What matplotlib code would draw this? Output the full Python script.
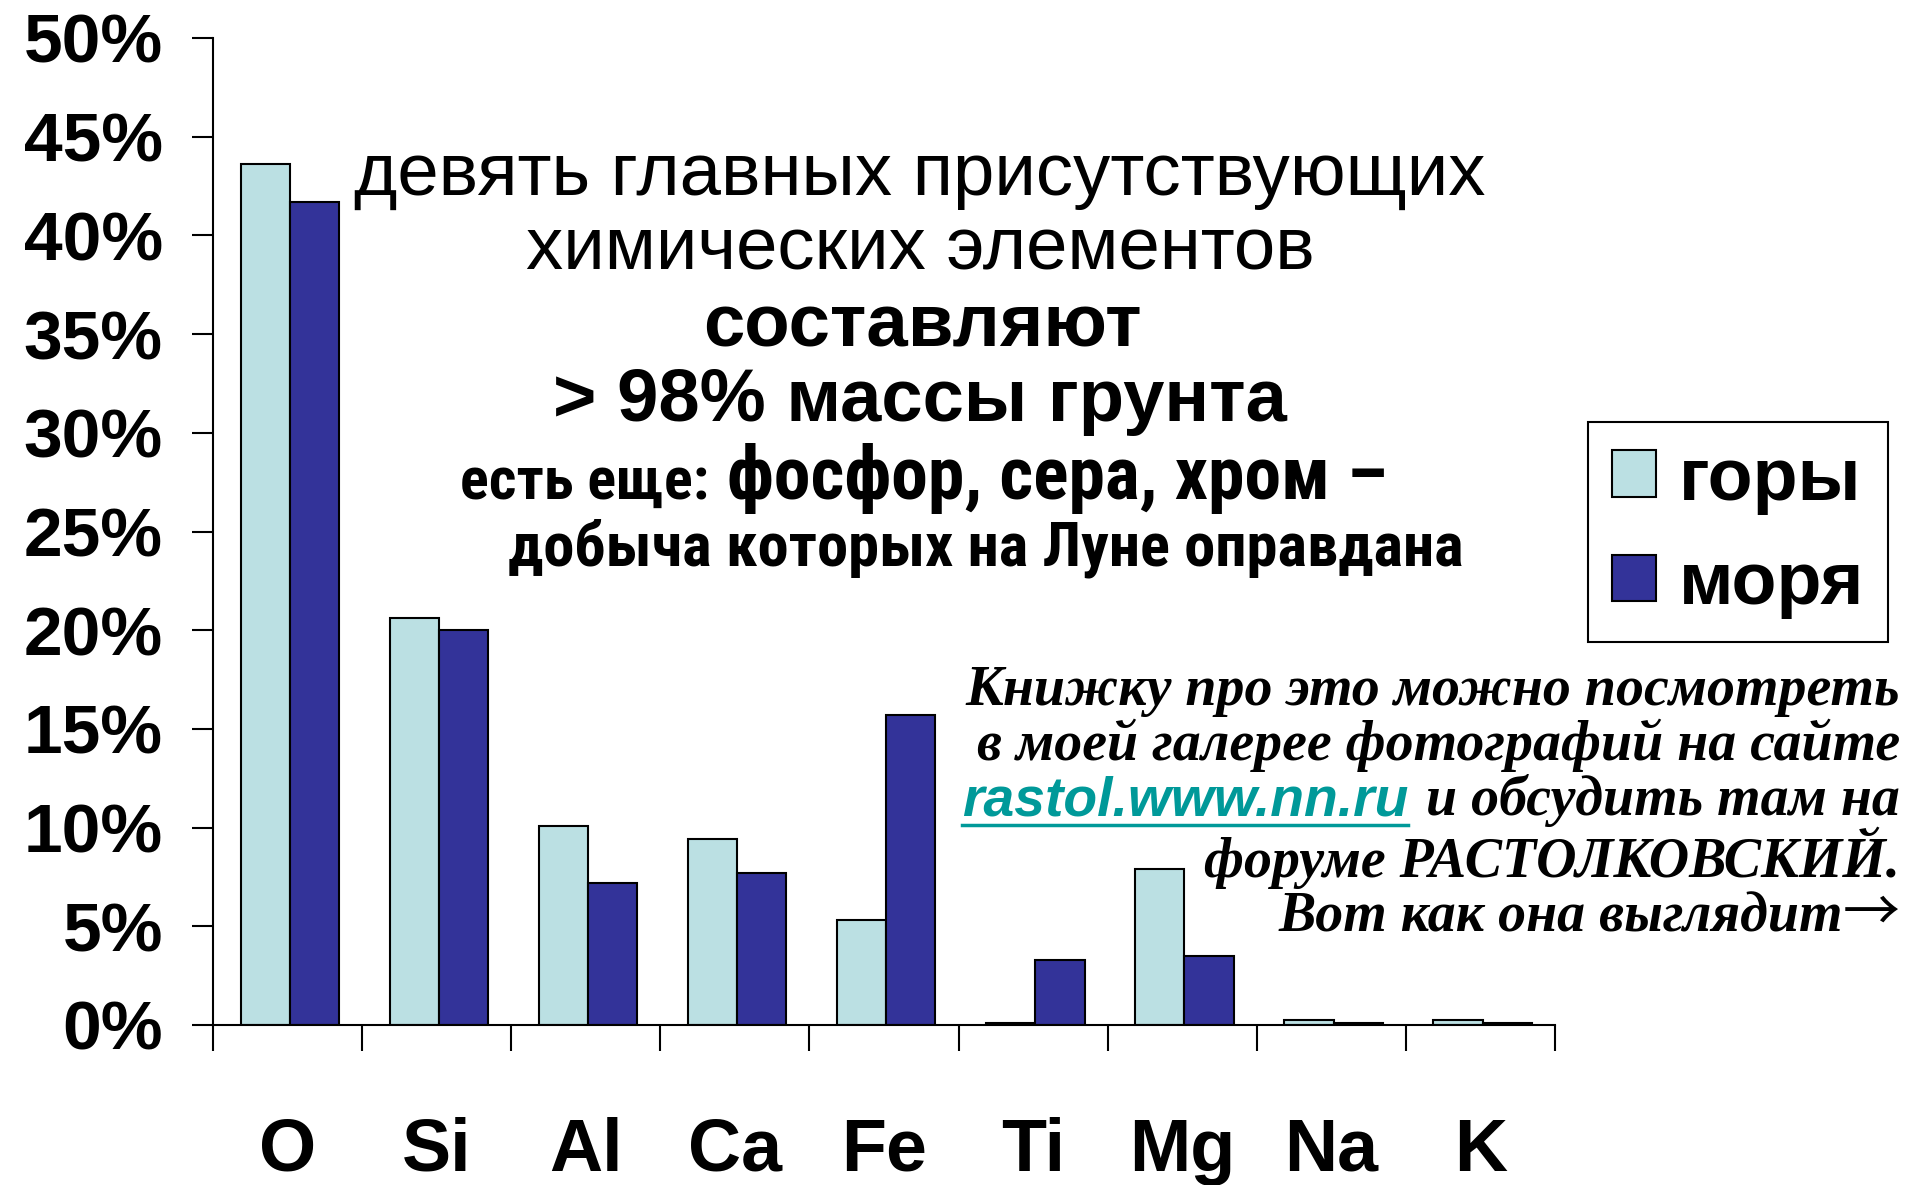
import numpy as np
import matplotlib
matplotlib.use('Agg')
import matplotlib.pyplot as plt
from matplotlib import font_manager
from matplotlib.lines import Line2D

plt.rcParams['font.family'] = ['Liberation Sans', 'DejaVu Sans']

elements = ['O', 'Si', 'Al', 'Ca', 'Fe', 'Ti', 'Mg', 'Na', 'K']
highlands = [43.6, 20.6, 10.1, 9.4, 5.3, 0.1, 7.9, 0.25, 0.25]
maria = [41.7, 20.0, 7.2, 7.7, 15.7, 3.3, 3.5, 0.08, 0.08]
series_names = ['горы', 'моря']
yticks = [0, 5, 10, 15, 20, 25, 30, 35, 40, 45, 50]

light = '#bbe0e3'
dark = '#333399'

W, H = 1907, 1185
fig = plt.figure(figsize=(W / 100, H / 100), dpi=100)
ax = fig.add_axes([213 / W, 1 - 1025 / H, (1555 - 213) / W, (1025 - 38) / H])

x = np.arange(len(elements))
bw = 0.33
ax.bar(x - 0.15, highlands, bw, color=light, edgecolor='black', linewidth=1.5,
       label=series_names[0])
ax.bar(x + 0.18, maria, bw, color=dark, edgecolor='black', linewidth=1.5,
       label=series_names[1])

ax.set_xlim(-0.5, len(elements) - 0.5)
ax.set_ylim(0, 50)
ax.set_yticks(yticks)
ax.set_yticklabels([f'{v}%' for v in yticks], fontsize=50, fontweight='bold')
ax.tick_params(axis='y', length=15, width=1.5, pad=21)
ax.set_xticks(x)
ax.set_xticklabels(elements, fontsize=53, fontweight='bold')
ax.tick_params(axis='x', which='major', length=0, pad=66)
ax.set_xticks(np.arange(-0.5, len(elements), 1), minor=True)
ax.tick_params(axis='x', which='minor', length=19, width=1.5, direction='out')
for s in ['top', 'right']:
    ax.spines[s].set_visible(False)
for s in ['left', 'bottom']:
    ax.spines[s].set_linewidth(1.5)

leg = ax.legend(loc='upper left', bbox_to_anchor=(1588 / W, 1 - 422 / H),
                bbox_transform=fig.transFigure, borderaxespad=0,
                prop={'weight': 'bold', 'size': 53},
                handlelength=0.6, handleheight=0.6, handletextpad=0.32,
                labelspacing=0.48, borderpad=0.32, fancybox=False,
                edgecolor='black', framealpha=1)
leg.get_frame().set_linewidth(1.5)

# look for a narrow bold sans for the two smaller lines
entries = font_manager.fontManager.ttflist
names = {f.name for f in entries}
narrow = None
for cand in ['Liberation Sans Narrow', 'Arial Narrow', 'Roboto Condensed',
             'Open Sans Condensed', 'Noto Sans Condensed', 'DejaVu Sans Condensed']:
    if cand in names:
        narrow = dict(family=cand, fontweight='bold')
        break
if narrow is None:
    for f in entries:
        if f.stretch in ('condensed', 'semi-condensed', 'extra-condensed') and 'Sans' in f.name:
            narrow = dict(family=f.name, fontstretch=f.stretch, fontweight='bold')
            break
if narrow is None:
    narrow = dict(family='Liberation Sans', fontweight='bold')

renderer = fig.canvas.get_renderer()


def put(s, px, py, ha, size, **kw):
    return fig.text(px / W, 1 - py / H, s, ha=ha, va='baseline', fontsize=size, **kw)


def fit(t, width):
    w = t.get_window_extent(renderer).width
    t.set_fontsize(t.get_fontsize() * width / w)


t = put('девять главных присутствующих', 920, 195, 'center', 53)
fit(t, 1133)
t = put('химических элементов', 920, 270, 'center', 53)
fit(t, 791)
t = put('составляют', 922, 346, 'center', 53, fontweight='bold')
fit(t, 438)
t = put('> 98% массы грунта', 920, 421, 'center', 53, fontweight='bold')
fit(t, 734)
t = put('есть еще:', 709, 499, 'right', 40, **narrow)
fit(t, 249)
t = put('фосфор, сера, хром –', 727, 499, 'left', 46, **narrow)
fit(t, 659)
t = put('добыча которых на Луне оправдана', 986, 566, 'center', 40, **narrow)
fit(t, 955)

serif = dict(family=['Liberation Serif', 'DejaVu Serif'], fontweight='bold', fontstyle='italic')
t1 = put('Книжку про это можно посмотреть', 1900, 705, 'right', 40, **serif)
fit(t1, 933)
fs = t1.get_fontsize()
put('в моей галерее фотографий на сайте', 1900, 760, 'right', fs, **serif)
url = put('rastol.www.nn.ru', 962, 815, 'left', 40, color='#009999',
          fontweight='bold', fontstyle='italic')
fit(url, 445)
put('и обсудить там на', 1900, 815, 'right', fs, **serif)
put('форуме РАСТОЛКОВСКИЙ.', 1900, 877, 'right', fs, **serif)
put('Вот как она выглядит', 1843, 931, 'right', fs, **serif)
arrow = put('→', 1900, 931, 'right', fs, family=['Noto Sans CJK JP', 'DejaVu Sans'])
fit(arrow, 57)

ext = url.get_window_extent(renderer)
uy = 1 - 825 / H
fig.add_artist(Line2D([ext.x0 / W, ext.x1 / W], [uy, uy], color='#009999', linewidth=2.5))

fig.savefig('out.png', dpi=100)
